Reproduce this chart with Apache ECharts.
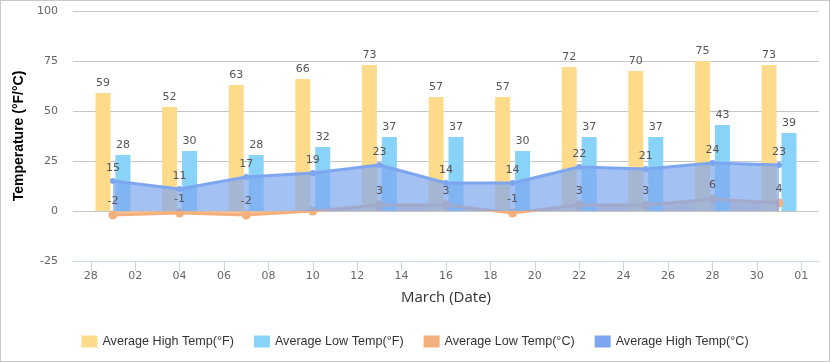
<!DOCTYPE html>
<html>
<head>
<meta charset="utf-8">
<script src="https://cdn.jsdelivr.net/npm/echarts@6/dist/echarts.min.js"></script>
<style>
html,body{margin:0;padding:0;background:#fff;}
#wrap{position:relative;width:830px;height:362px;}
#chart{width:830px;height:362px;}
#border{position:absolute;left:0;top:0;width:830px;height:362px;box-sizing:border-box;border:1px solid #c8c8c8;pointer-events:none;}
</style>
</head>
<body>
<div id="wrap"><div id="chart"></div><div id="border"></div></div>
<script>
// Day numbers (Feb 28 = 0, Mar 1 = 1, ..., Apr 1 = 32)
const marchDays = [1, 4, 7, 10, 13, 16, 19, 22, 25, 28, 31];
const highF = [59, 52, 63, 66, 73, 57, 57, 72, 70, 75, 73];
const lowF  = [28, 30, 28, 32, 37, 37, 30, 37, 37, 43, 39];
const lowC  = [-2, -1, -2, 0, 3, 3, -1, 3, 3, 6, 4];
const highC = [15, 11, 17, 19, 23, 14, 14, 22, 21, 24, 23];
const tickDays   = [0, 2, 4, 6, 8, 10, 12, 14, 16, 18, 20, 22, 24, 26, 28, 30, 32];
const tickLabels = ['28','02','04','06','08','10','12','14','16','18','20','22','24','26','28','30','01'];
const yTicks = [-25, 0, 25, 50, 75, 100];
const seriesNames = ['Average High Temp(°F)', 'Average Low Temp(°F)', 'Average Low Temp(°C)', 'Average High Temp(°C)'];

const pair = arr => marchDays.map((d, i) => [d, arr[i]]);
const labelStyle = {show: true, position: 'top', distance: 4, color: '#555', fontFamily: 'DejaVu Sans', fontSize: 11, opacity: 1};

const chart = echarts.init(document.getElementById('chart'), null, {renderer: 'canvas'});
chart.setOption({
  animation: false,
  grid: {left: 73, right: 11, top: 11, bottom: 101},
  legend: {
    bottom: 9, left: 'center', itemWidth: 16, itemHeight: 12, itemGap: 20, icon: 'rect',
    textStyle: {fontFamily: 'Liberation Sans', fontSize: 12.6, color: '#333'},
    data: seriesNames
  },
  xAxis: {
    type: 'value', min: -0.8, max: 32.8,
    name: 'March (Date)', nameLocation: 'middle', nameGap: 29,
    nameTextStyle: {fontFamily: 'Open Sans', fontSize: 15, color: '#333'},
    axisLine: {show: true, onZero: false, lineStyle: {color: '#ccd6eb'}},
    axisTick: {show: true, length: 10, customValues: tickDays, lineStyle: {color: '#ccd6eb'}},
    axisLabel: {customValues: tickDays, formatter: v => tickLabels[tickDays.indexOf(v)], color: '#666', fontFamily: 'DejaVu Sans', fontSize: 11, margin: 10},
    splitLine: {show: false}
  },
  yAxis: {
    type: 'value', min: yTicks[0], max: yTicks[yTicks.length - 1], interval: 25,
    name: 'Temperature (°F/°C)', nameLocation: 'middle', nameGap: 40,
    nameTextStyle: {fontFamily: 'Liberation Sans', fontWeight: 'bold', fontSize: 14, color: '#000'},
    axisLine: {show: false}, axisTick: {show: false},
    axisLabel: {color: '#666', fontFamily: 'DejaVu Sans', fontSize: 11, margin: 15},
    splitLine: {lineStyle: {color: '#c6c6c6'}}
  },
  series: [
    {name: seriesNames[0], type: 'bar', data: pair(highF), barWidth: 15, barGap: '33%',
     itemStyle: {color: '#fedb8a'}, label: labelStyle},
    {name: seriesNames[1], type: 'bar', data: pair(lowF), barWidth: 15, barGap: '33%',
     itemStyle: {color: '#88d3f7'}, label: labelStyle},
    {name: seriesNames[2], type: 'line', z: 2, data: pair(lowC), symbol: 'circle', symbolSize: 9,
     itemStyle: {color: '#f4b07c'}, lineStyle: {width: 3, color: '#f4b07c'},
     areaStyle: {color: '#f4b07c', opacity: 0.7}, label: {show: false}},
    {name: seriesNames[3], type: 'line', z: 3, data: pair(highC), symbol: 'circle', symbolSize: 6,
     itemStyle: {color: '#7ea6f0'}, lineStyle: {width: 3, color: '#7ea6f0'},
     areaStyle: {color: '#7ea6f0', opacity: 0.7}, label: labelStyle},
    // labels for the low °C series, drawn above the high °C area
    {name: 'lowC-labels', type: 'scatter', zlevel: 1, z: 4, data: pair(lowC), symbolSize: 9, silent: true,
     itemStyle: {color: 'rgba(0,0,0,0)', opacity: 1},
     label: Object.assign({}, labelStyle, {formatter: p => p.value[1] === 0 ? '' : String(p.value[1])})}
  ]
});
</script>
</body>
</html>
